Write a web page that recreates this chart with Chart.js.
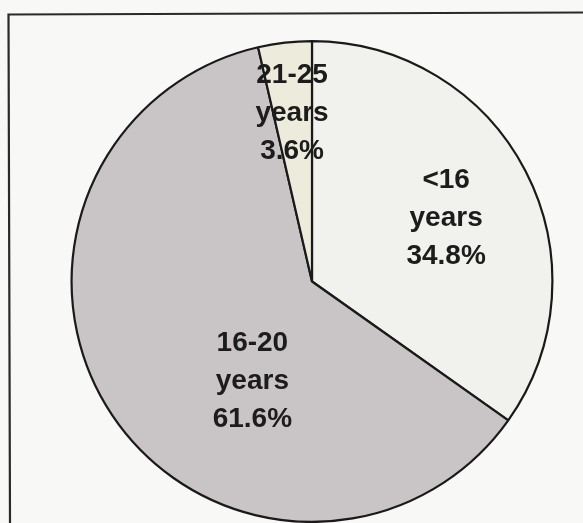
<!DOCTYPE html>
<html>
<head>
<meta charset="utf-8">
<script src="https://cdn.jsdelivr.net/npm/chart.js@4"></script>
<style>
  html, body { margin:0; padding:0; background:#f8f8f6; }
  #wrap { position:absolute; left:0; top:0; width:583px; height:523px; }
</style>
</head>
<body>
<div id="wrap"><canvas id="c" width="583" height="523"></canvas></div>
<script>
const categories = ["<16", "16-20", "21-25"];
const lineOne = ["<16", "16-20", "21-25"];
const lineTwo = ["years", "years", "years"];
const percentages = [34.8, 61.6, 3.6];
const sliceColors = ["#f1f1ee", "#c9c4c5", "#ecebdc"];

// label anchor as fraction of radius (x right, y down) relative to pie center
const labelAnchors = [[0.558, -0.264], [-0.248, 0.413], [-0.083, -0.70]];

const framePlugin = {
  id: 'frame',
  beforeDraw(chart) {
    const ctx = chart.ctx;
    ctx.save();
    ctx.strokeStyle = '#2a2a2a';
    ctx.lineWidth = 2.2;
    ctx.beginPath();
    ctx.moveTo(10, 523);
    ctx.lineTo(8.5, 14.5);
    ctx.lineTo(583, 12.5);
    ctx.stroke();
    ctx.restore();
  }
};

const labelPlugin = {
  id: 'sliceLabels',
  afterDatasetsDraw(chart) {
    const ctx = chart.ctx;
    const meta = chart.getDatasetMeta(0);
    ctx.save();
    ctx.font = 'bold 28px "Liberation Sans", Arial, sans-serif';
    ctx.fillStyle = '#1c1c1c';
    ctx.textAlign = 'center';
    ctx.textBaseline = 'middle';
    meta.data.forEach((arc, i) => {
      const r = arc.outerRadius;
      const cx = arc.x + labelAnchors[i][0] * r;
      const cy = arc.y + labelAnchors[i][1] * r;
      const lines = [lineOne[i], lineTwo[i], percentages[i].toFixed(1) + '%'];
      const lh = 38;
      lines.forEach((t, k) => {
        ctx.fillText(t, cx, cy + (k - 1) * lh);
      });
    });
    ctx.restore();
  }
};

new Chart(document.getElementById('c'), {
  type: 'pie',
  data: {
    labels: categories,
    datasets: [{
      data: percentages,
      backgroundColor: sliceColors,
      borderColor: '#1a1a1a',
      borderWidth: 2.2
    }]
  },
  options: {
    responsive: false,
    animation: false,
    layout: { padding: { left: 70, right: 29, top: 40, bottom: 0 } },
    plugins: { legend: { display: false }, tooltip: { enabled: false } }
  },
  plugins: [framePlugin, labelPlugin]
});
</script>
</body>
</html>
